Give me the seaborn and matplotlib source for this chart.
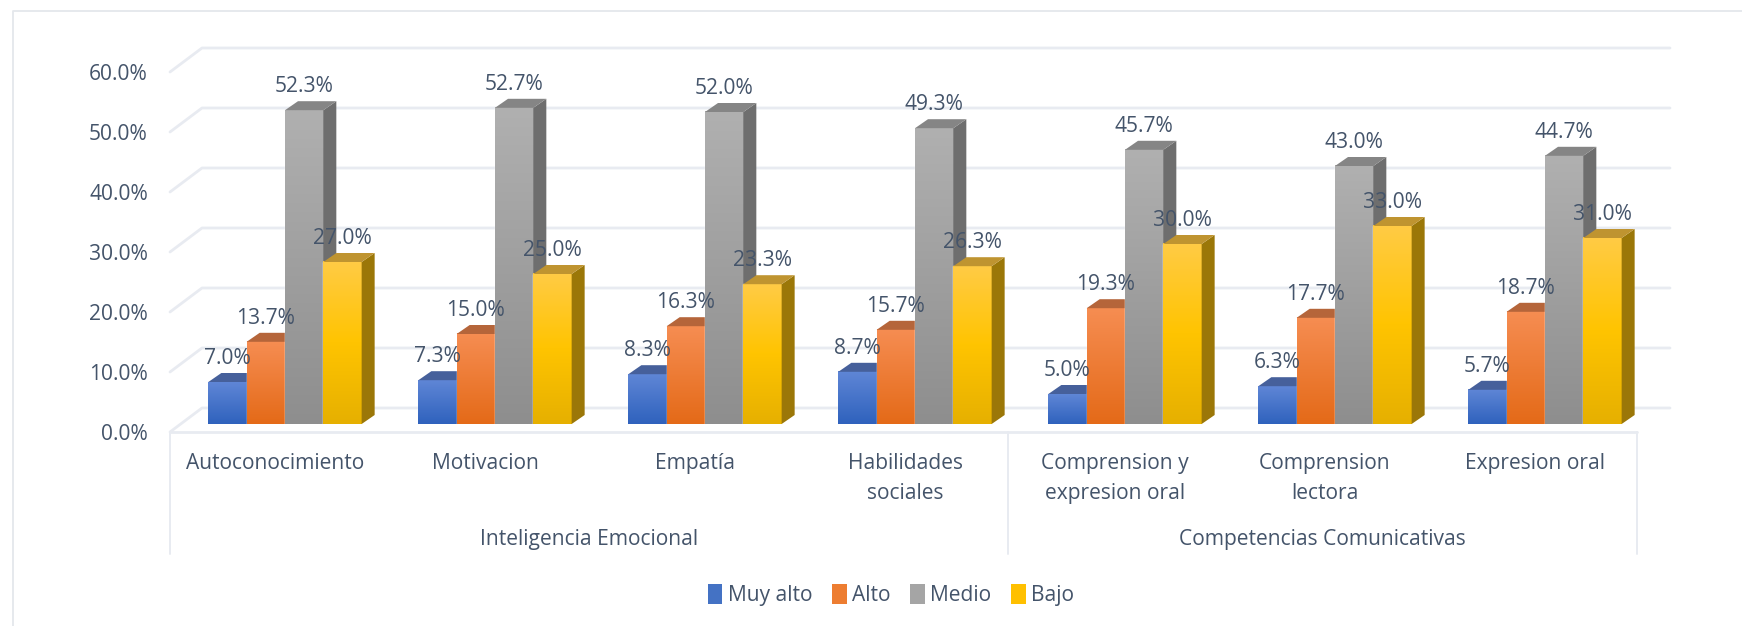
import numpy as np
import pandas as pd
import matplotlib
matplotlib.use("Agg")
import matplotlib.pyplot as plt
from matplotlib.colors import LinearSegmentedColormap
from matplotlib.lines import Line2D
from matplotlib.patches import Polygon, Patch
from matplotlib.transforms import Affine2D
import seaborn as sns

categories = ["Autoconocimiento", "Motivacion", "Empatía", "Habilidades\nsociales",
              "Comprension y\nexpresion oral", "Comprension\nlectora", "Expresion oral"]
groups = ["Inteligencia Emocional", "Competencias Comunicativas"]
group_sizes = [4, 3]
levels = ["Muy alto", "Alto", "Medio", "Bajo"]
muy_alto = [7.0, 7.3, 8.3, 8.7, 5.0, 6.3, 5.7]
alto = [13.7, 15.0, 16.3, 15.7, 19.3, 17.7, 18.7]
medio = [52.3, 52.7, 52.0, 49.3, 45.7, 43.0, 44.7]
bajo = [27.0, 25.0, 23.3, 26.3, 30.0, 33.0, 31.0]
y_ticks = [0, 10, 20, 30, 40, 50, 60]

TXT = "#44546A"
GRID = "#E8EBF1"
legend_cols = ["#4472C4", "#ED7D31", "#A5A5A5", "#FFC000"]
grads = [["#5F86D6", "#2F62BD"], ["#F68D52", "#E46A18"], ["#B0B0B0", "#8E8E8E"],
         ["#FFCB45", "#FFC400", "#E6B000"]]
tops = ["#46609B", "#B5653A", "#858585", "#BF9430"]
sides = ["#35538F", "#A85A2A", "#6E6E6E", "#9B7708"]
FS = 15.1

sns.set_theme(style="white")
plt.rcParams["font.family"] = ["Open Sans", "DejaVu Sans"]

W, H = 1742, 626
fig = plt.figure(figsize=(W / 100, H / 100), dpi=100, facecolor="white")
L, R, T, B = 170, 1637, 40, 432
ax = fig.add_axes([L / W, 1 - B / H, (R - L) / W, (B - T) / H])
ax.patch.set_alpha(0)

df = pd.DataFrame({
    "Categoria": np.tile(categories, 4),
    "Nivel": np.repeat(levels, 7),
    "Valor": muy_alto + alto + medio + bajo,
})
sns.barplot(data=df, x="Categoria", y="Valor", hue="Nivel", hue_order=levels,
            palette=legend_cols, width=0.73, order=categories, ax=ax, legend=False, errorbar=None)

UNIT = 210.0
xlim = ((L - 285) / UNIT, (R - 285) / UNIT)
ylim = ((424 - B) / 6.0, (424 - T) / 6.0)
ax.set_xlim(*xlim)
ax.set_ylim(*ylim)
to_px = ax.transData.transform
to_data = ax.transData.inverted().transform

# walls and floor
BX, BY = 32, 16
for v in y_ticks:
    xy = to_data(np.array([to_px((xlim[0], v)) + (0, -8),
                           to_px((xlim[0], v)) + (BX, BY),
                           to_px((xlim[1], v)) + (BX + 1, BY)]))
    ax.plot(xy[:, 0], xy[:, 1], color=GRID, lw=2.0, zorder=1, clip_on=False, solid_joinstyle="round")
xy = to_data(np.array([to_px((xlim[0], 0)) + (0, -8), to_px((xlim[1], 0)) + (0, -8)]))
ax.plot(xy[:, 0], xy[:, 1], color=GRID, lw=2.0, zorder=1, clip_on=False)

# 3-D bars built from the seaborn bars
DX, DY = 13, 9
for k, cont in enumerate(ax.containers):
    cmap = LinearSegmentedColormap.from_list(levels[k], grads[k])
    grad = np.linspace(0, 1, 128).reshape(-1, 1)
    for bar in cont:
        x, w, h = bar.get_x(), bar.get_width(), bar.get_height()
        z = 10 + k * 3
        bar.set_zorder(z)
        ax.imshow(grad, cmap=cmap, extent=[x, x + w, 0, h], origin="upper", aspect="auto",
                  zorder=z + 0.1, interpolation="bilinear")
        a, b, c = to_px((x, h)), to_px((x + w, h)), to_px((x + w, 0))
        top = to_data(np.array([a, b, b + (DX, DY), a + (DX, DY)]))
        side = to_data(np.array([c, b, b + (DX, DY), c + (DX, DY)]))
        ax.add_patch(Polygon(side, closed=True, fc=sides[k], ec="none", zorder=z + 0.2, clip_on=False))
        ax.add_patch(Polygon(top, closed=True, fc=tops[k], ec="none", zorder=z + 0.2, clip_on=False))
        ax.annotate(f"{h:.1f}%", (x + w / 2, h), xytext=(0, 23.5 * 0.72), textcoords="offset points",
                    ha="center", va="center", fontsize=FS, color=TXT, zorder=50, annotation_clip=False)

ax.set_xlim(*xlim)
ax.set_ylim(*ylim)
ax.set_yticks(y_ticks, [f"{v:.1f}%" for v in y_ticks])
ax.set_xticks(np.arange(7) - 10 / UNIT, categories)
ax.set_xlabel("")
ax.set_ylabel("")
ax.grid(False)
for s in ax.spines.values():
    s.set_visible(False)
ax.tick_params(axis="y", length=0, pad=16, labelsize=FS, labelcolor=TXT)
ax.tick_params(axis="x", length=0, pad=15, labelsize=FS, labelcolor=TXT)
for lab in ax.get_yticklabels():
    lab.set_transform(lab.get_transform() + Affine2D().translate(0, -8))
for lab in ax.get_xticklabels():
    lab.set_linespacing(1.55)

# multi-level axis: separators and group labels
edges = np.concatenate([[0], np.cumsum(group_sizes)])
axis_w = (xlim[1] - xlim[0]) / 7
trans = ax.get_xaxis_transform()
for e in edges:
    xe = xlim[0] + e * axis_w
    ax.plot([xe, xe], [0, -122 / (B - T)], color=GRID, lw=1.4, transform=trans, clip_on=False, zorder=1)
for j, g in enumerate(groups):
    xc = xlim[0] + (edges[j] + edges[j + 1]) / 2 * axis_w
    ax.text(xc, -107 / (B - T), g, transform=trans, ha="center", va="center",
            fontsize=FS, color=TXT, clip_on=False)

# legend
handles = [Patch(fc=c, ec="none", label=l) for c, l in zip(legend_cols, levels)]
fig.legend(handles=handles, ncol=4, frameon=False, loc="center", bbox_to_anchor=(891 / W, 1 - 595 / H),
           fontsize=FS, labelcolor=TXT, handlelength=0.7, handleheight=1.05, handletextpad=0.25,
           columnspacing=0.95)

# outer chart frame: only the top and left edges show in the crop
fig.add_artist(Line2D([13 / W, 13 / W, 1], [0, 1 - 11 / H, 1 - 11 / H], transform=fig.transFigure,
                      color="#E4E7EC", lw=1.3))

fig.savefig("out.png", dpi=100, facecolor="white")
